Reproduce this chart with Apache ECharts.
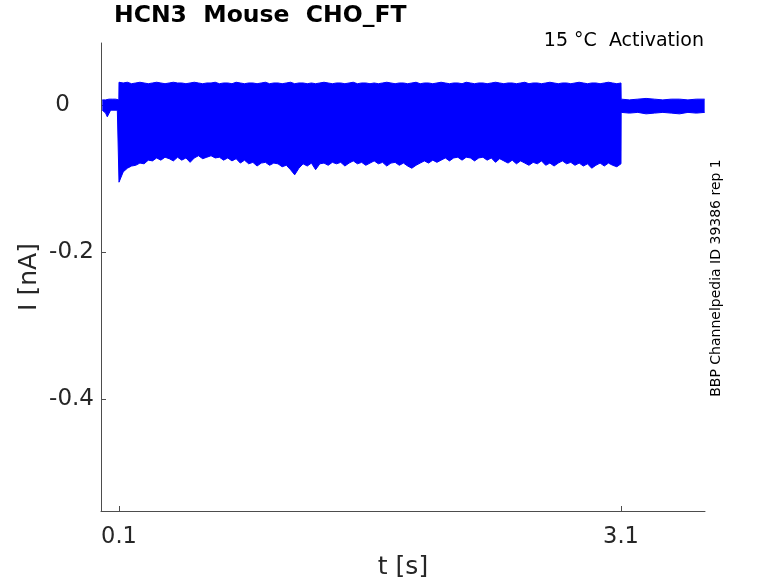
<!DOCTYPE html>
<html>
<head>
<meta charset="utf-8">
<script src="https://cdn.jsdelivr.net/npm/echarts@6/dist/echarts.min.js"></script>
<style>html,body{margin:0;padding:0;background:#fff;}#c{width:778px;height:583px;}</style>
</head>
<body>
<div id="c"></div>
<script>
// ---- data ----
const titleText = 'HCN3  Mouse  CHO_FT';
const conditionText = '15 °C  Activation';
const sideText = 'BBP Channelpedia ID 39386 rep 1';
const xTicks = [0.1, 3.1];
const yTicks = [-0.4, -0.2, 0];

// baseline before the pulse (s, nA envelope)
const preT = [0, 0.01, 0.02, 0.03, 0.04, 0.05, 0.06, 0.07, 0.08, 0.09, 0.099];
const preUpper = [0.007, 0.008, 0.007, 0.007, 0.008, 0.007, 0.008, 0.007, 0.008, 0.007, 0.007];
const preLower = [-0.007, -0.008, -0.011, -0.016, -0.014, -0.007, -0.008, -0.007, -0.008, -0.007, -0.007];

// during the pulse: envelope sampled every 0.025 s from 0.1 to 3.1 s
const pulseStart = 0.1, pulseStep = 0.025;
const pulseUpper = [
  0.031, 0.030, 0.031, 0.029, 0.030, 0.031, 0.030, 0.029, 0.030, 0.031,
  0.030, 0.029, 0.030, 0.031, 0.030, 0.030, 0.029, 0.030, 0.031, 0.030,
  0.029, 0.030, 0.030, 0.031, 0.029, 0.030, 0.030, 0.029, 0.031, 0.030,
  0.029, 0.030, 0.030, 0.029, 0.030, 0.031, 0.029, 0.030, 0.030, 0.029,
  0.030, 0.031, 0.029, 0.030, 0.030, 0.029, 0.030, 0.029, 0.030, 0.031,
  0.030, 0.029, 0.030, 0.030, 0.029, 0.030, 0.031, 0.029, 0.030, 0.030,
  0.029, 0.030, 0.029, 0.030, 0.031, 0.030, 0.029, 0.030, 0.030, 0.029,
  0.030, 0.031, 0.029, 0.030, 0.030, 0.029, 0.030, 0.031, 0.030, 0.029,
  0.030, 0.030, 0.029, 0.031, 0.030, 0.029, 0.030, 0.030, 0.029, 0.030,
  0.031, 0.030, 0.029, 0.030, 0.030, 0.029, 0.030, 0.031, 0.029, 0.030,
  0.030, 0.029, 0.030, 0.031, 0.030, 0.029, 0.030, 0.030, 0.029, 0.030,
  0.031, 0.030, 0.029, 0.030, 0.030, 0.029, 0.030, 0.031, 0.030, 0.029,
  0.030
];
const pulseLower = [
  -0.105, -0.091, -0.086, -0.083, -0.082, -0.079, -0.080, -0.075, -0.076, -0.072,
  -0.075, -0.071, -0.073, -0.076, -0.071, -0.075, -0.072, -0.078, -0.072, -0.069,
  -0.073, -0.071, -0.069, -0.072, -0.071, -0.075, -0.072, -0.076, -0.073, -0.079,
  -0.075, -0.080, -0.078, -0.083, -0.079, -0.078, -0.082, -0.079, -0.080, -0.084,
  -0.082, -0.088, -0.095, -0.086, -0.080, -0.083, -0.079, -0.088, -0.080, -0.079,
  -0.082, -0.078, -0.080, -0.078, -0.083, -0.079, -0.076, -0.080, -0.078, -0.082,
  -0.079, -0.076, -0.080, -0.078, -0.083, -0.079, -0.078, -0.082, -0.079, -0.083,
  -0.086, -0.082, -0.079, -0.076, -0.079, -0.075, -0.078, -0.075, -0.072, -0.076,
  -0.072, -0.071, -0.075, -0.071, -0.072, -0.076, -0.072, -0.071, -0.075, -0.072,
  -0.078, -0.073, -0.076, -0.079, -0.075, -0.080, -0.076, -0.079, -0.082, -0.078,
  -0.080, -0.076, -0.082, -0.079, -0.083, -0.079, -0.076, -0.080, -0.078, -0.082,
  -0.079, -0.083, -0.080, -0.086, -0.082, -0.079, -0.083, -0.079, -0.082, -0.084,
  -0.080
];

// baseline after the pulse
const postT = [3.101, 3.15, 3.2, 3.25, 3.3, 3.35, 3.4, 3.45, 3.5, 3.55, 3.6];
const postUpper = [0.008, 0.007, 0.008, 0.009, 0.008, 0.007, 0.008, 0.008, 0.007, 0.008, 0.008];
const postLower = [-0.010, -0.011, -0.010, -0.012, -0.011, -0.010, -0.011, -0.012, -0.010, -0.011, -0.010];

// ---- build ----
const pulseT = pulseLower.map((_, i) => +(pulseStart + i * pulseStep).toFixed(4));
const times = preT.concat(pulseT, postT);
const upper = preUpper.concat(pulseUpper, postUpper);
const lower = preLower.concat(pulseLower, postLower);

const FONT = 'DejaVu Sans';
const TXT = '#262626';
const AX = '#4d4d4d';
const BLUE = '#0000ff';

const chart = echarts.init(document.getElementById('c'), null, {renderer: 'canvas'});
chart.setOption({
  animation: false,
  backgroundColor: '#ffffff',
  grid: {left: 101, top: 43, width: 604, height: 468, containLabel: false, outerBoundsMode: 'none'},
  xAxis: {
    type: 'value', min: -0.0076, max: 3.602,
    name: 't [s]', nameLocation: 'middle', nameGap: 44,
    nameTextStyle: {fontFamily: FONT, fontSize: 25, color: TXT},
    axisLine: {show: true, onZero: false, lineStyle: {color: AX, width: 1}},
    axisTick: {show: true, inside: true, length: 5, customValues: xTicks, lineStyle: {color: AX}},
    axisLabel: {customValues: xTicks, formatter: v => v.toFixed(1), fontFamily: FONT, fontSize: 22.5, color: TXT, margin: 15},
    splitLine: {show: false}
  },
  yAxis: {
    type: 'value', min: -0.5524, max: 0.0844,
    name: 'I [nA]', nameLocation: 'middle', nameGap: 59, nameMoveOverlap: false,
    nameTextStyle: {fontFamily: FONT, fontSize: 25, color: TXT},
    axisLine: {show: true, onZero: false, lineStyle: {color: AX, width: 1}},
    axisTick: {show: true, inside: true, length: 5, customValues: yTicks, lineStyle: {color: AX}},
    axisLabel: {
      customValues: yTicks,
      formatter: v => (Math.abs(v) < 1e-9 ? '{z|0}' : '-' + Math.abs(v).toFixed(1)),
      fontFamily: FONT, fontSize: 23, color: TXT, margin: 7,
      rich: {z: {fontFamily: FONT, fontSize: 23, color: TXT, padding: [0, 24, 0, 0]}}
    },
    splitLine: {show: false}
  },
  series: [
    {
      type: 'line', symbol: 'none',
      data: times.map((t, i) => [t, lower[i]]),
      lineStyle: {color: BLUE, width: 1},
      areaStyle: {color: BLUE, opacity: 1, origin: 0}
    },
    {
      type: 'line', symbol: 'none',
      data: times.map((t, i) => [t, upper[i]]),
      lineStyle: {color: BLUE, width: 1},
      areaStyle: {color: BLUE, opacity: 1, origin: 0}
    }
  ],
  graphic: [
    {type: 'text', left: 114, top: 4, style: {text: titleText, fontFamily: FONT, fontWeight: 'bold', fontSize: 23.5, fill: '#000'}},
    {type: 'text', right: 74, top: 32, style: {text: conditionText, fontFamily: FONT, fontSize: 19, fill: '#000'}},
    {type: 'text', x: 716, y: 278, rotation: Math.PI / 2,
     style: {text: sideText, fontFamily: FONT, fontSize: 14, fill: '#000', align: 'center', verticalAlign: 'middle'}}
  ]
});
</script>
</body>
</html>
